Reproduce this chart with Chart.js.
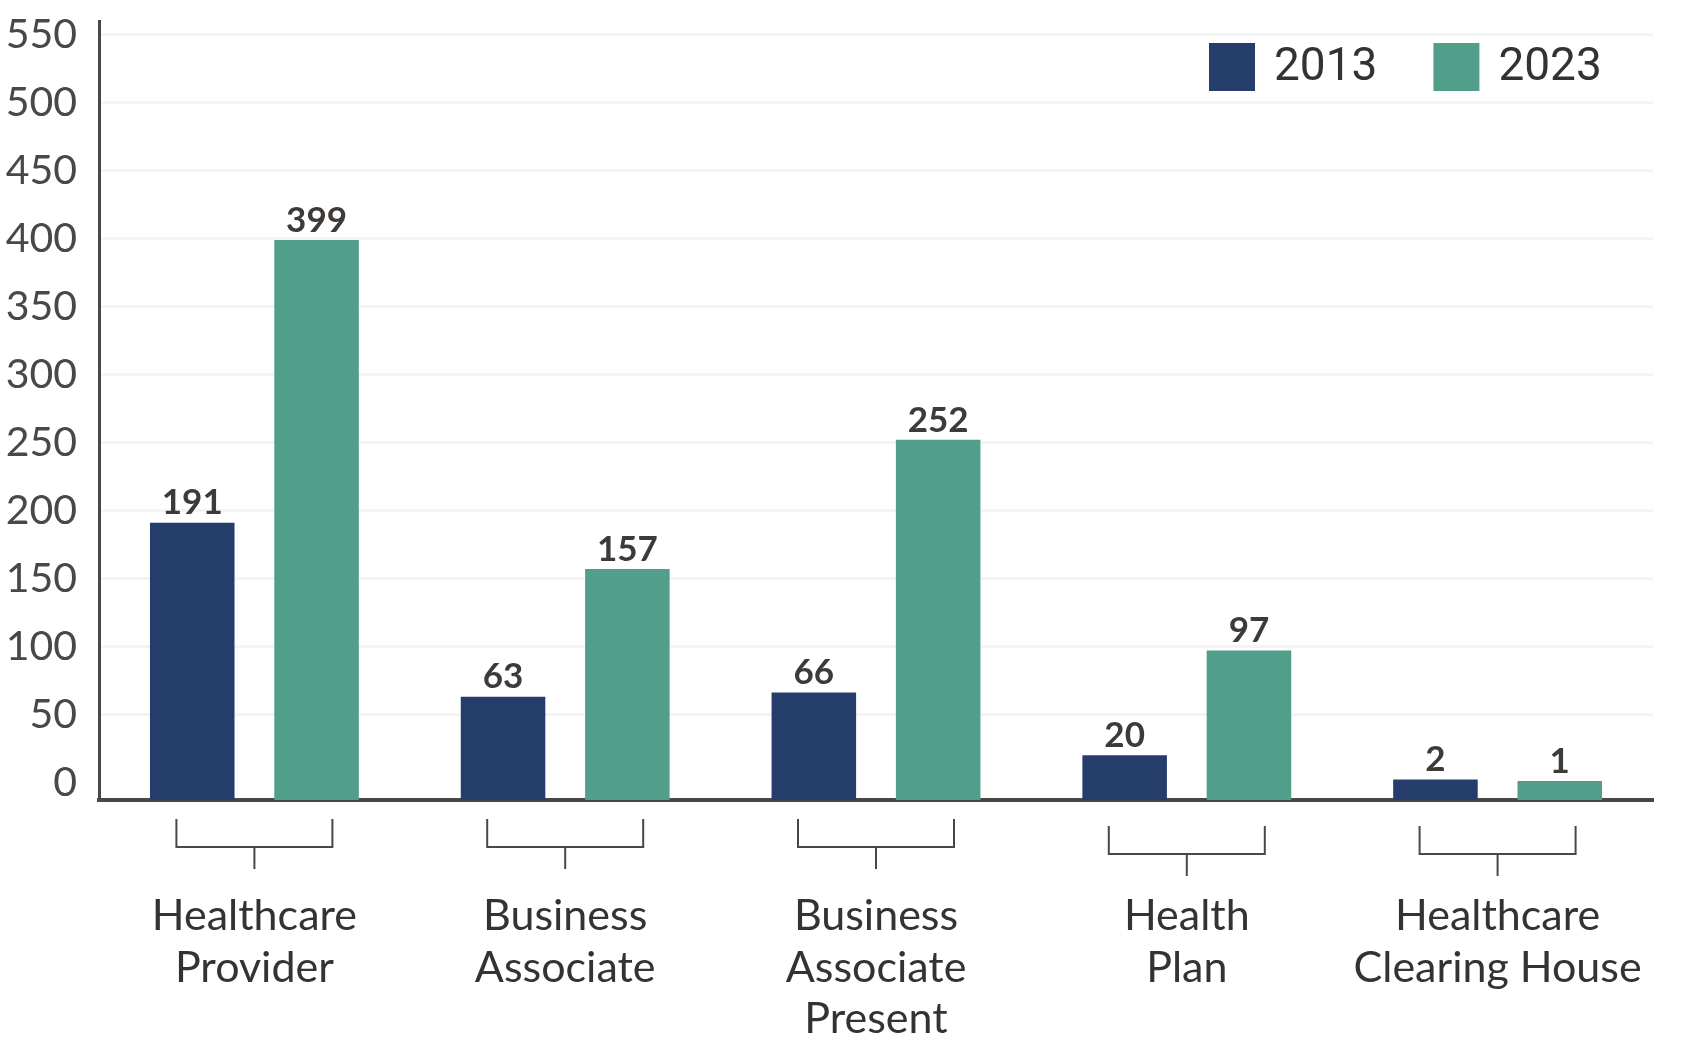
<!DOCTYPE html>
<html>
<head>
<meta charset="utf-8">
<script src="https://cdn.jsdelivr.net/npm/chart.js@4"></script>
<style>
html,body{margin:0;padding:0;background:#fff;}
#wrap{width:1690px;height:1056px;position:relative;}
</style>
</head>
<body>
<div id="wrap"><canvas id="c"></canvas></div>
<script>
const categories = [["Healthcare","Provider"],["Business","Associate"],["Business","Associate","Present"],["Health","Plan"],["Healthcare","Clearing House"]];
const seriesNames = ["2013","2023"];
const values2013 = [191, 63, 66, 20, 2];
const values2023 = [399, 157, 252, 97, 1];
const yTickMin = 0, yTickMax = 550, yStep = 50;
// the axis floor sits a little below the 0 line, and the top a little above 550
const axisFloor = -13, axisCeil = 560;

const colors = ["#243d6b", "#519e8a"];
const inkColor = "#4a4745";

const valueLabels = {
  id: 'valueLabels',
  afterDatasetsDraw(chart) {
    const ctx = chart.ctx;
    ctx.save();
    ctx.font = "bold 35px Lato";
    ctx.fillStyle = "#3d3a38";
    ctx.textAlign = "center";
    ctx.textBaseline = "bottom";
    chart.data.datasets.forEach((ds, di) => {
      chart.getDatasetMeta(di).data.forEach((el, i) => {
        ctx.fillText(String(ds.data[i]), el.x, el.y - 2);
      });
    });
    ctx.restore();
  }
};

const brackets = {
  id: 'brackets',
  afterDraw(chart, args, opts) {
    const ctx = chart.ctx, xs = chart.scales.x, b = chart.chartArea.bottom;
    ctx.save();
    ctx.strokeStyle = inkColor;
    ctx.lineWidth = 2;
    xs.ticks.forEach((t, i) => {
      const cx = xs.getPixelForTick(i);
      const d = opts.drop[i] || 0;
      const hw = opts.halfWidth;
      ctx.beginPath();
      ctx.moveTo(cx - hw, b + 19 + d);
      ctx.lineTo(cx - hw, b + 47 + d);
      ctx.lineTo(cx + hw, b + 47 + d);
      ctx.lineTo(cx + hw, b + 19 + d);
      ctx.moveTo(cx, b + 47 + d);
      ctx.lineTo(cx, b + 69 + d);
      ctx.stroke();
    });
    ctx.restore();
  }
};

const customLegend = {
  id: 'customLegend',
  afterDraw(chart) {
    const ctx = chart.ctx, ca = chart.chartArea;
    ctx.save();
    ctx.font = "46px Roboto";
    ctx.textBaseline = "middle";
    ctx.textAlign = "left";
    let x = ca.right - 444;
    const top = 43, bw = 46, bh = 48;
    chart.data.datasets.forEach((ds, i) => {
      ctx.fillStyle = ds.backgroundColor;
      ctx.fillRect(x, top, bw, bh);
      ctx.fillStyle = "#333333";
      ctx.fillText(ds.label, x + bw + 19, top + bh / 2 + 1);
      x += bw + 19 + ctx.measureText(ds.label).width + 56;
    });
    ctx.restore();
  }
};

new Chart(document.getElementById('c'), {
  type: 'bar',
  data: {
    labels: categories,
    datasets: [
      { label: seriesNames[0], data: values2013, backgroundColor: colors[0], base: axisFloor },
      { label: seriesNames[1], data: values2023, backgroundColor: colors[1], base: axisFloor }
    ]
  },
  options: {
    responsive: true,
    maintainAspectRatio: false,
    animation: false,
    devicePixelRatio: 1,
    categoryPercentage: 0.8,
    barPercentage: 0.68,
    layout: { padding: { top: 21, right: 37, bottom: 0, left: 0 } },
    plugins: {
      legend: { display: false },
      tooltip: { enabled: false },
      brackets: { halfWidth: 78, drop: [0, 0, 0, 7, 7] }
    },
    scales: {
      x: {
        grid: { display: false, drawTicks: false },
        border: { display: true, color: inkColor, width: 4 },
        ticks: {
          color: "#333333",
          font: { family: "Lato", size: 43, lineHeight: 1.19 },
          padding: 91,
          maxRotation: 0,
          autoSkip: false
        },
        afterFit(scale) {
          scale.height = 256;
          scale.paddingLeft = 0;
          scale.paddingRight = 0;
        }
      },
      y: {
        min: axisFloor,
        max: axisCeil,
        grid: {
          color: (c) => (c.tick && c.tick.value === yTickMin) ? 'rgba(0,0,0,0)' : '#f3f4f6',
          lineWidth: 3,
          drawTicks: false
        },
        border: { display: true, color: inkColor, width: 3 },
        afterBuildTicks(scale) {
          const t = [];
          for (let v = yTickMin; v <= yTickMax; v += yStep) t.push({ value: v });
          scale.ticks = t;
        },
        ticks: {
          stepSize: yStep,
          color: inkColor,
          font: { family: "Lato", size: 41 },
          padding: 22
        },
        afterFit(scale) {
          scale.width = 99;
          scale.paddingTop = 0;
          scale.paddingBottom = 0;
        }
      }
    }
  },
  plugins: [valueLabels, brackets, customLegend]
});
</script>
</body>
</html>
